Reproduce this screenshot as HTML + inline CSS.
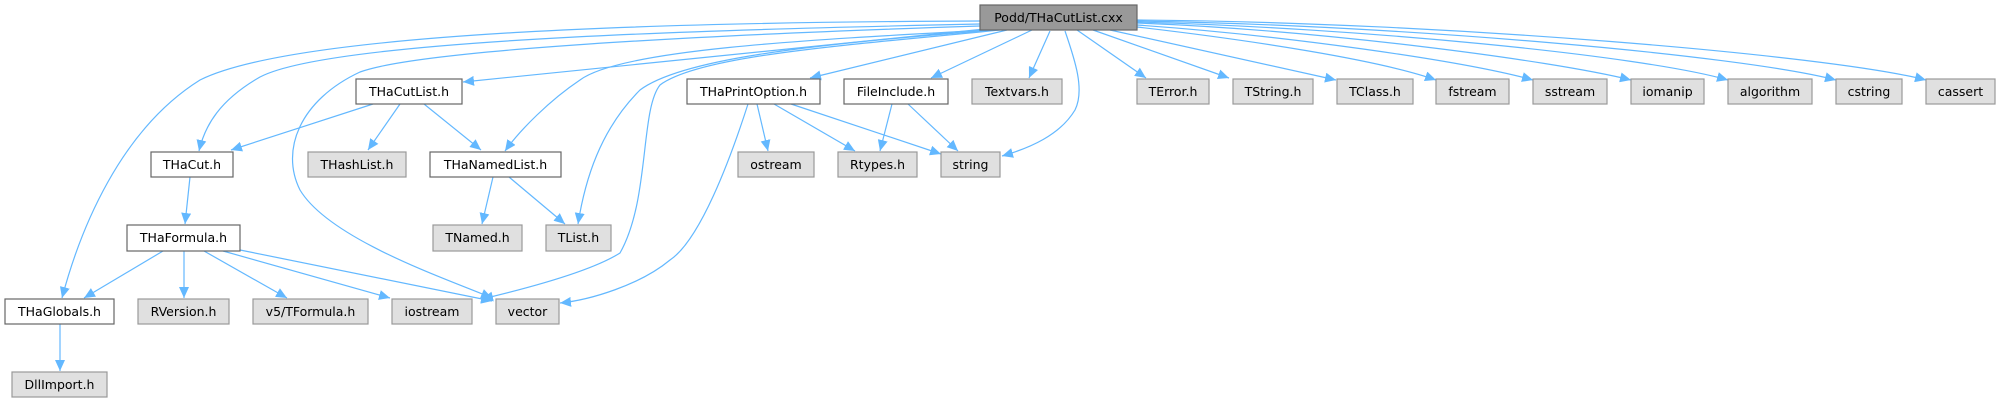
<!DOCTYPE html>
<html><head><meta charset="utf-8"><style>
html,body{margin:0;padding:0;background:#fff;width:2008px;height:403px;overflow:hidden}
text{font-family:"DejaVu Sans","Liberation Sans",sans-serif;font-size:12.5px;fill:#000;text-anchor:middle}
.w{fill:#fff;stroke:#666;stroke-width:1.2}
.g{fill:#e0e0e0;stroke:#999;stroke-width:1.2}
.p{fill:#999;stroke:#666;stroke-width:1.2}
path.e{fill:none;stroke:#63b8ff;stroke-width:1.2;marker-end:url(#a)}
</style></head><body>
<svg width="2008" height="403" viewBox="0 0 2008 403" xmlns="http://www.w3.org/2000/svg">
<defs><marker id="a" markerUnits="userSpaceOnUse" markerWidth="12" markerHeight="10" refX="11" refY="5" orient="auto"><path d="M0,0 L11,5 L0,10 Z" fill="#63b8ff"/></marker></defs>

<!-- edges from Podd -->
<path class="e" d="M980,21 C700,22 300,30 200,80 C120,130 80,230 62,298"/>
<path class="e" d="M980,24 C700,30 330,40 260,77 C220,100 205,125 199,151"/>
<path class="e" d="M980,26 C700,35 420,50 360,72 C300,100 280,150 300,190 C330,240 450,280 492,298"/>
<path class="e" d="M985,29 L463,82"/>
<path class="e" d="M990,30 C800,40 620,50 580,80 C550,100 520,130 505,151"/>
<path class="e" d="M995,30 C800,45 680,60 640,90 C600,130 585,180 578,224"/>
<path class="e" d="M1000,30 C850,45 700,55 660,85 C640,110 650,200 620,253 C590,272 520,290 482,299"/>
<path class="e" d="M1007,30 L810,78"/>
<path class="e" d="M1032,30 L931,78"/>
<path class="e" d="M1050,31 L1029,78"/>
<path class="e" d="M1065,31 C1075,60 1085,90 1075,110 C1060,135 1030,148 1002,156"/>
<path class="e" d="M1077,30 L1146,78"/>
<path class="e" d="M1093,30 L1229,78"/>
<path class="e" d="M1110,30 L1336,80"/>
<path class="e" d="M1137,27 C1250,40 1380,60 1436,80"/>
<path class="e" d="M1137,25 C1280,35 1460,60 1533,80"/>
<path class="e" d="M1137,23 C1320,30 1550,60 1631,80"/>
<path class="e" d="M1137,22 C1360,28 1640,55 1728,80"/>
<path class="e" d="M1137,21 C1400,25 1740,55 1836,80"/>
<path class="e" d="M1137,20 C1440,22 1830,55 1926,80"/>

<!-- sub edges -->
<path class="e" d="M373,104 L231,150"/>
<path class="e" d="M400,104 L368,150"/>
<path class="e" d="M424,104 L481,150"/>
<path class="e" d="M190,177 L185,224"/>
<path class="e" d="M493,177 L482,224"/>
<path class="e" d="M509,177 L565,224"/>
<path class="e" d="M163,251 L84,298"/>
<path class="e" d="M184,251 L184,298"/>
<path class="e" d="M204,251 L287,298"/>
<path class="e" d="M223,251 L390,298"/>
<path class="e" d="M240,250 L492,301"/>
<path class="e" d="M60,324 L60,371"/>
<path class="e" d="M748,104 C730,160 700,240 670,260 C640,285 590,300 560,303"/>
<path class="e" d="M757,104 L768,151"/>
<path class="e" d="M774,104 L855,151"/>
<path class="e" d="M791,104 L941,154"/>
<path class="e" d="M892,104 L880,151"/>
<path class="e" d="M908,104 L958,151"/>

<!-- nodes -->
<rect class="p" x="980" y="5" width="157" height="25"/><text x="1058.5" y="22">Podd/THaCutList.cxx</text>
<rect class="w" x="356" y="79" width="106" height="25"/><text x="409" y="96">THaCutList.h</text>
<rect class="w" x="687" y="79" width="133" height="25"/><text x="753.5" y="96">THaPrintOption.h</text>
<rect class="w" x="844" y="79" width="104" height="25"/><text x="896" y="96">FileInclude.h</text>
<rect class="g" x="972" y="79" width="90" height="25"/><text x="1017" y="96">Textvars.h</text>
<rect class="g" x="1137" y="79" width="72" height="25"/><text x="1173" y="96">TError.h</text>
<rect class="g" x="1233" y="79" width="80" height="25"/><text x="1273" y="96">TString.h</text>
<rect class="g" x="1337" y="79" width="76" height="25"/><text x="1375" y="96">TClass.h</text>
<rect class="g" x="1436" y="79" width="73" height="25"/><text x="1472.5" y="96">fstream</text>
<rect class="g" x="1533" y="79" width="74" height="25"/><text x="1570" y="96">sstream</text>
<rect class="g" x="1631" y="79" width="73" height="25"/><text x="1667.5" y="96">iomanip</text>
<rect class="g" x="1728" y="79" width="84" height="25"/><text x="1770" y="96">algorithm</text>
<rect class="g" x="1836" y="79" width="66" height="25"/><text x="1869" y="96">cstring</text>
<rect class="g" x="1926" y="79" width="69" height="25"/><text x="1960.5" y="96">cassert</text>

<rect class="w" x="151" y="152" width="82" height="25"/><text x="192" y="169">THaCut.h</text>
<rect class="g" x="308" y="152" width="98" height="25"/><text x="357" y="169">THashList.h</text>
<rect class="w" x="430" y="152" width="131" height="25"/><text x="495.5" y="169">THaNamedList.h</text>
<rect class="g" x="738" y="152" width="76" height="25"/><text x="776" y="169">ostream</text>
<rect class="g" x="838" y="152" width="79" height="25"/><text x="877.5" y="169">Rtypes.h</text>
<rect class="g" x="941" y="152" width="59" height="25"/><text x="970.5" y="169">string</text>

<rect class="w" x="127" y="225" width="113" height="26"/><text x="183.5" y="242">THaFormula.h</text>
<rect class="g" x="433" y="225" width="89" height="26"/><text x="477.5" y="242">TNamed.h</text>
<rect class="g" x="546" y="225" width="65" height="26"/><text x="578.5" y="242">TList.h</text>

<rect class="w" x="5" y="299" width="109" height="25"/><text x="59.5" y="316">THaGlobals.h</text>
<rect class="g" x="138" y="299" width="91" height="25"/><text x="183.5" y="316">RVersion.h</text>
<rect class="g" x="253" y="299" width="115" height="25"/><text x="310.5" y="316">v5/TFormula.h</text>
<rect class="g" x="392" y="299" width="80" height="25"/><text x="432" y="316">iostream</text>
<rect class="g" x="496" y="299" width="63" height="25"/><text x="527.5" y="316">vector</text>

<rect class="g" x="12" y="372" width="95" height="25"/><text x="59.5" y="389">DllImport.h</text>
</svg>
</body></html>
